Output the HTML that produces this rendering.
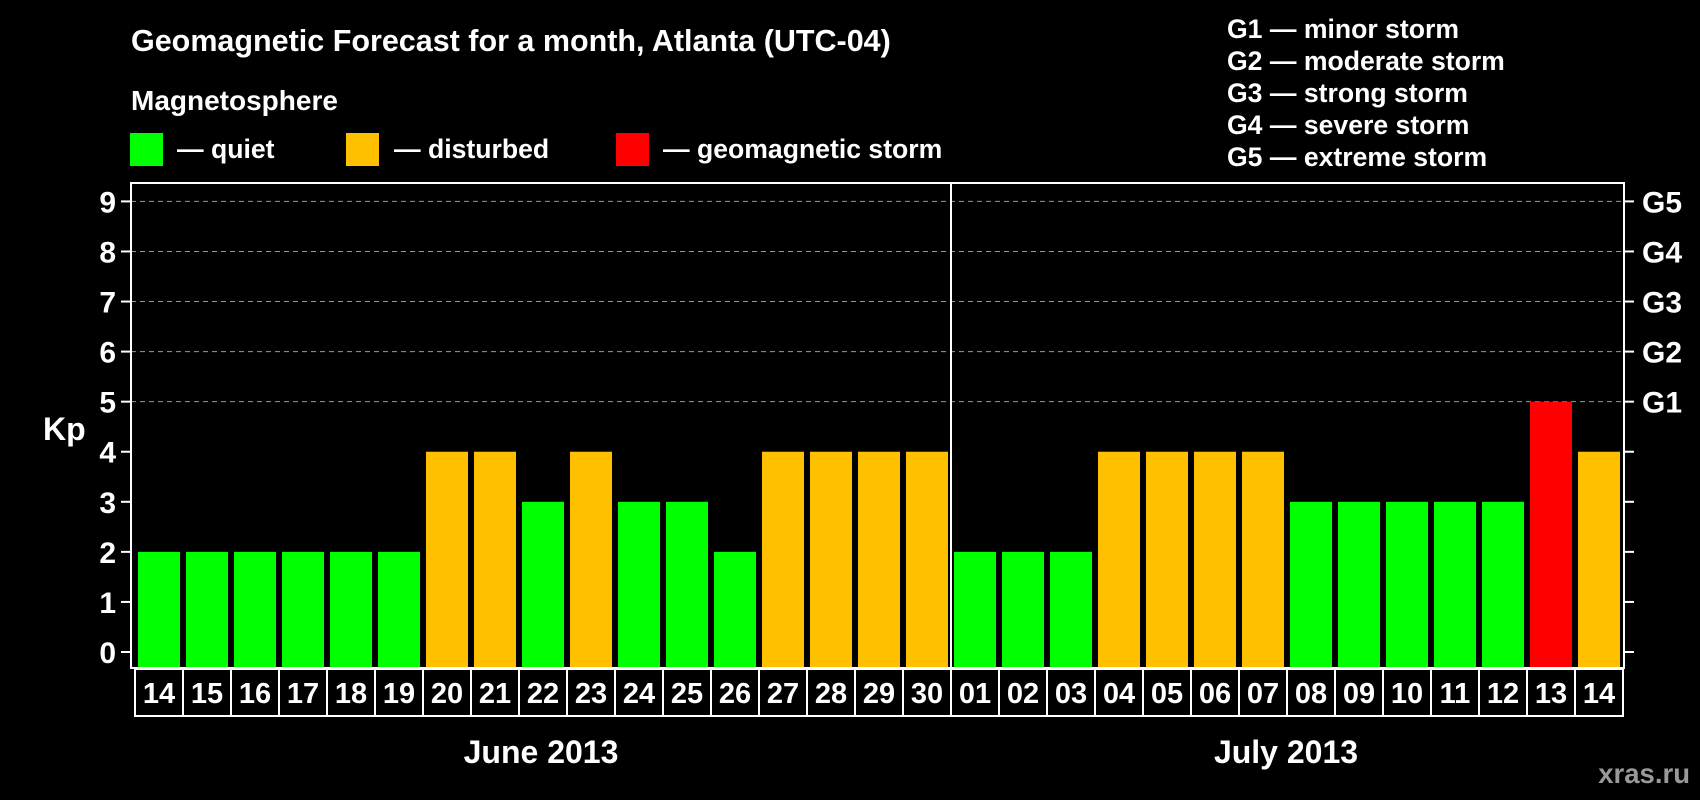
<!DOCTYPE html>
<html><head><meta charset="utf-8"><style>
html,body{margin:0;padding:0;background:#000;}
svg{display:block;font-family:"Liberation Sans",Arial,sans-serif;font-weight:bold;}
</style></head><body>
<svg id="chart" width="1700" height="800" viewBox="0 0 1700 800">
<rect x="0" y="0" width="1700" height="800" fill="#000"/>
<text x="131" y="51" fill="#fff" font-size="30.5">Geomagnetic Forecast for a month, Atlanta (UTC-04)</text>
<text x="131" y="110" fill="#fff" font-size="28">Magnetosphere</text>
<g><rect x="130" y="133" width="33" height="33" fill="#00ff00"/><text x="177" y="158" fill="#fff" font-size="26.6">— quiet</text></g>
<g><rect x="346" y="133" width="33" height="33" fill="#ffc000"/><text x="394" y="158" fill="#fff" font-size="26.6">— disturbed</text></g>
<g><rect x="616" y="133" width="33" height="33" fill="#ff0000"/><text x="663" y="158" fill="#fff" font-size="26.6">— geomagnetic storm</text></g>
<g fill="#fff" font-size="26.6">
<text x="1227" y="38">G1 — minor storm</text>
<text x="1227" y="70">G2 — moderate storm</text>
<text x="1227" y="102">G3 — strong storm</text>
<text x="1227" y="134">G4 — severe storm</text>
<text x="1227" y="166">G5 — extreme storm</text>
</g>
<g id="grid"></g>
<g id="bars"></g>
<g id="axes"></g>
<text x="43" y="440" fill="#fff" font-size="32">Kp</text>
<text x="541" y="763" fill="#fff" font-size="32" text-anchor="middle">June 2013</text>
<text x="1286" y="763" fill="#fff" font-size="32" text-anchor="middle">July 2013</text>
<text x="1690" y="783" fill="#999" font-size="27.5" text-anchor="end">xras.ru</text>
</svg>
<script>
const days = ["14","15","16","17","18","19","20","21","22","23","24","25","26","27","28","29","30","01","02","03","04","05","06","07","08","09","10","11","12","13","14"];
const kpValues = [2,2,2,2,2,2,4,4,3,4,3,3,2,4,4,4,4,2,2,2,4,4,4,4,3,3,3,3,3,5,4];
const yTicks = [0,1,2,3,4,5,6,7,8,9];
const gLabels = ["G1","G2","G3","G4","G5"];
const gLevels = [5,6,7,8,9];
const NS="http://www.w3.org/2000/svg";
const L=131,R=1624,T=183,B=668,y0=652,unit=(652-201.4)/9,X0=135,pitch=48,bw=42;
const y=v=>y0-v*unit, xs=i=>X0+i*pitch;
function mk(tag,attrs,parent,txt){const e=document.createElementNS(NS,tag);for(const k in attrs)e.setAttribute(k,attrs[k]);if(txt!==undefined)e.textContent=txt;parent.appendChild(e);return e;}
const grid=document.getElementById('grid'),bars=document.getElementById('bars'),axes=document.getElementById('axes');
gLevels.forEach((v,i)=>{
 const ln=mk('line',{x1:L,x2:R,y1:y(v),y2:y(v),stroke:'#999','stroke-dasharray':'5,4','stroke-width':1},grid);
 
 
 const t=mk('text',{x:1642,y:y(v)+11,fill:'#fff','font-size':30},axes,gLabels[i]);
 
 
});
kpValues.forEach((v,i)=>{
 const c=v>=5?'#ff0000':(v>=4?'#ffc000':'#00ff00');
 const r=mk('rect',{x:xs(i)+3,y:y(v),width:bw,height:B-y(v),fill:c},bars);
 
 
 const cell=mk('rect',{x:xs(i),y:B+1,width:pitch,height:47,fill:'none',stroke:'#fff','stroke-width':2},axes);
 
 
 const t=mk('text',{x:xs(i)+pitch/2,y:703,fill:'#fff','font-size':29,'text-anchor':'middle'},axes,days[i]);
 
 
});
const frame=mk('rect',{x:L,y:T,width:R-L,height:B-T,fill:'none',stroke:'#fff','stroke-width':2},axes);


const div=mk('line',{x1:951,x2:951,y1:T,y2:B,stroke:'#fff','stroke-width':2},axes);


yTicks.forEach(v=>{
 const tl=mk('line',{x1:L-10,x2:L,y1:y(v),y2:y(v),stroke:'#fff','stroke-width':2},axes);
 
 
 const tr=mk('line',{x1:R,x2:R+10,y1:y(v),y2:y(v),stroke:'#fff','stroke-width':2},axes);
 
 
 const t=mk('text',{x:116,y:y(v)+11,fill:'#fff','font-size':30,'text-anchor':'end'},axes,String(v));
 
 
});
</script>
</body></html>
